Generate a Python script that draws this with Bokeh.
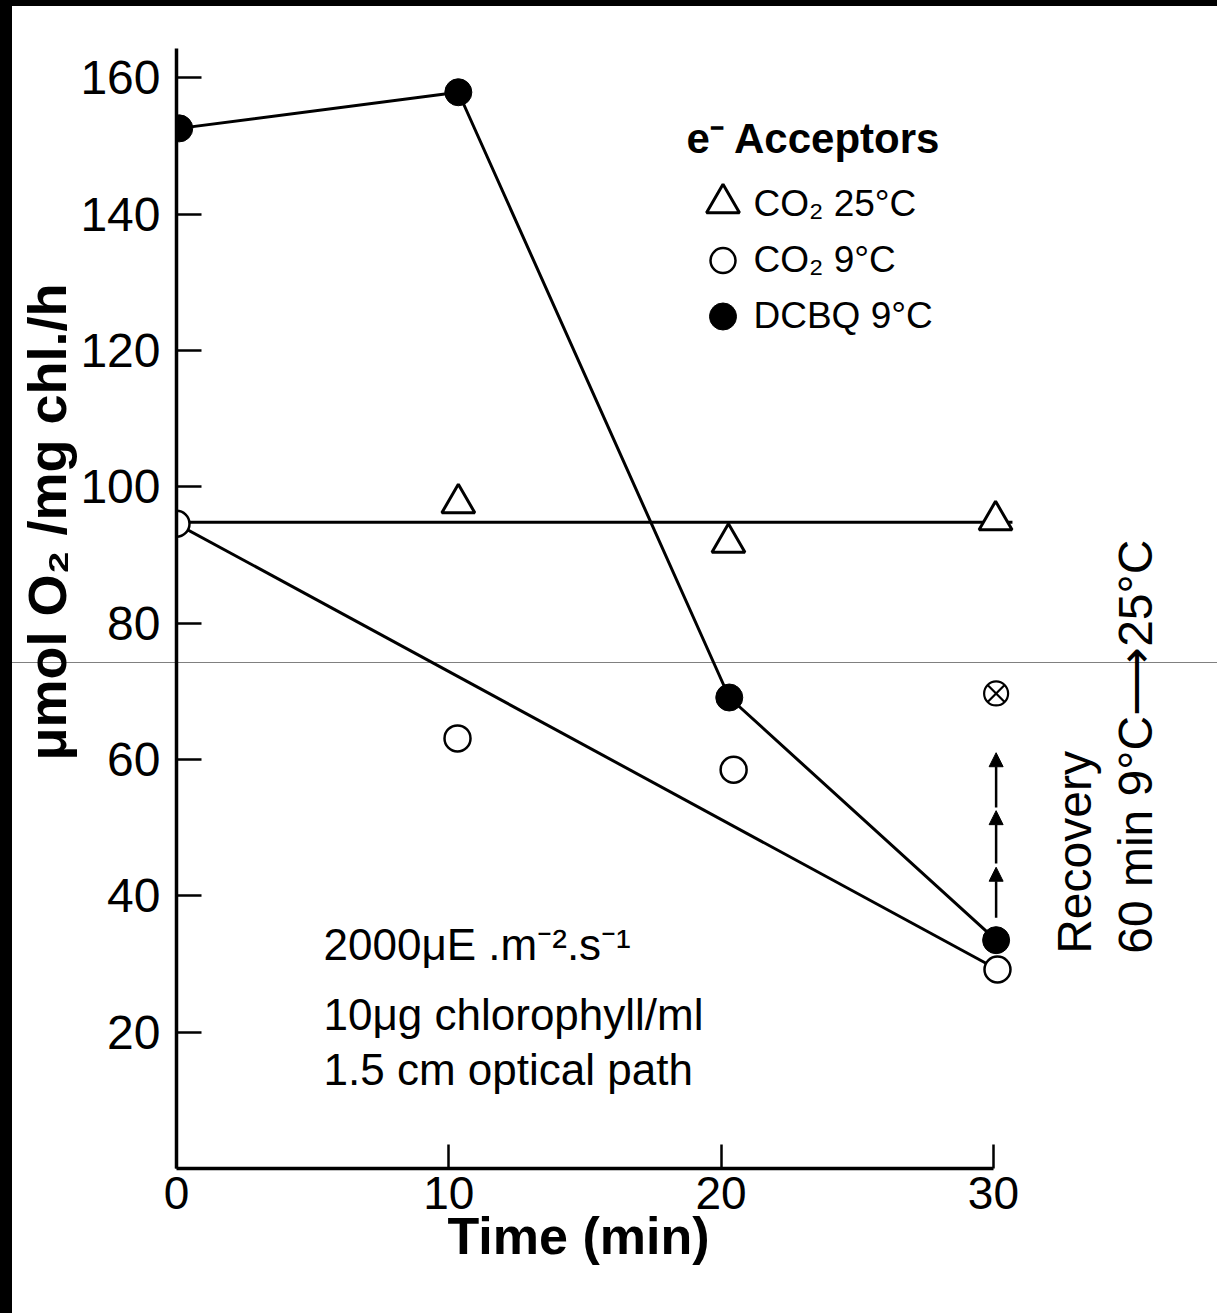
from bokeh.plotting import figure
from bokeh.models import FixedTicker, Arrow, NormalHead, Range1d, Title
from bokeh.layouts import column
from bokeh.embed import file_html
from bokeh.resources import INLINE
from bokeh.core.properties import value

FONT = "Liberation Sans"

# ---- data ----
time_dcbq = [0.1, 10.35, 20.3, 30.1]
rate_dcbq = [152.6, 157.9, 69.1, 33.5]

time_co2_25 = [10.35, 20.27, 30.08]
rate_co2_25 = [97.6, 91.8, 95.1]

time_co2_9 = [0.0, 10.32, 20.46, 30.15]
rate_co2_9 = [94.6, 63.1, 58.5, 29.2]

fit_co2_25_time = [0.0, 30.7]
fit_co2_25_rate = [94.8, 94.8]
fit_co2_9_time = [0.0, 30.15]
fit_co2_9_rate = [94.6, 29.2]

recovery_time = [30.1]
recovery_rate = [69.7]

x_ticks = [0, 10, 20, 30]
y_ticks = [20, 40, 60, 80, 100, 120, 140, 160]

x_title = "Time (min)"
y_title = "\u03bcmol O\u2082 /mg chl./h"
legend_title = "e\u207b Acceptors"
legend_labels = ["CO\u2082 25\u00b0C", "CO\u2082 9\u00b0C", "DCBQ 9\u00b0C"]
note_lines = ["2000\u03bcE .m\u207b\u00b2.s\u207b\u00b9", "10\u03bcg chlorophyll/ml", "1.5 cm optical path"]
recovery_lines = ["Recovery", "60 min 9\u00b0C\u27f625\u00b0C"]

# ---- figure ----
p = figure(width=1205, height=1307, output_backend="svg", toolbar_location=None,
           x_range=Range1d(0, 38.23), y_range=Range1d(0, 170.48),
           min_border_left=164, min_border_right=0, min_border_top=0, min_border_bottom=145)
p.outline_line_color = None
p.grid.visible = False
p.background_fill_color = None
p.border_fill_color = None

for ax in (p.xaxis[0], p.yaxis[0]):
    ax.axis_line_width = 3.5
    ax.axis_line_color = "black"
    ax.major_tick_out = 0
    ax.major_tick_line_width = 2.5
    ax.major_tick_line_color = "black"
    ax.minor_tick_line_color = None
    ax.major_label_text_font = FONT
    ax.major_label_text_color = "black"

p.xaxis.ticker = FixedTicker(ticks=x_ticks)
p.xaxis.bounds = (0, 30)
p.xaxis.major_tick_in = 24
p.xaxis.major_label_standoff = 8
p.xaxis.major_label_text_font_size = "46px"

p.yaxis.ticker = FixedTicker(ticks=y_ticks)
p.yaxis.bounds = (0, 164.3)
p.yaxis.major_tick_in = 25
p.yaxis.major_label_standoff = 16
p.yaxis.major_label_text_font_size = "48px"

# axis titles (as side titles, so they can sit off-centre like the original)
p.add_layout(Title(text=x_title, align="left", offset=271, vertical_align="middle", standoff=-12,
                   text_font=FONT, text_font_style="bold", text_font_size="52px",
                   text_color="black"), "below")
p.add_layout(Title(text=y_title, align="left", offset=408, vertical_align="middle", standoff=0,
                   text_font=FONT, text_font_style="bold", text_font_size="54px",
                   text_color="black"), "left")

# ---- lines ----
p.line(fit_co2_25_time, fit_co2_25_rate, line_color="black", line_width=3)
p.line(fit_co2_9_time, fit_co2_9_rate, line_color="black", line_width=3)
p.line(time_dcbq, rate_dcbq, line_color="black", line_width=3)

# ---- markers ----
p.scatter(time_co2_25, rate_co2_25, marker="triangle", size=33, fill_color="white",
          line_color="black", line_width=3)
p.scatter(time_co2_9, rate_co2_9, marker="circle", size=26, fill_color="white",
          line_color="black", line_width=2.5)
p.scatter(time_dcbq, rate_dcbq, marker="circle", size=27, fill_color="black",
          line_color="black", line_width=1)
p.scatter(recovery_time, recovery_rate, marker="circle_x", size=24, fill_color="white",
          line_color="black", line_width=2.2)

# ---- recovery arrows ----
arrow_x = recovery_time[0]
for y0, y1 in [(36.8, 44.2), (44.75, 52.5), (52.95, 61.0)]:
    p.add_layout(Arrow(x_start=arrow_x, y_start=y0, x_end=arrow_x, y_end=y1,
                       line_width=2.5, line_color="black",
                       end=NormalHead(size=14, fill_color="black", line_color="black", line_width=1)))

# ---- legend (manual) ----
p.text(x=[18.73], y=[151.1], text=[legend_title], text_font=value(FONT),
       text_font_style="bold", text_font_size="42px", text_color="black",
       text_baseline="alphabetic", text_align="left")
leg_x = 20.07
leg_marker_y = [141.6, 133.2, 125.0]
p.scatter([leg_x], [leg_marker_y[0]], marker="triangle", size=33, fill_color="white",
          line_color="black", line_width=3)
p.scatter([leg_x], [leg_marker_y[1]], marker="circle", size=25, fill_color="white",
          line_color="black", line_width=2.5)
p.scatter([leg_x], [leg_marker_y[2]], marker="circle", size=27, fill_color="black",
          line_color="black", line_width=1)
p.text(x=[21.19] * 3, y=[141.6, 133.4, 125.2], text=legend_labels, text_font=value(FONT),
       text_font_size="37px", text_color="black", text_baseline="alphabetic", text_align="left")

# ---- notes ----
p.text(x=[5.40] * 3, y=[32.8, 22.6, 14.5], text=note_lines, text_font=value(FONT),
       text_font_size="44px", text_color="black", text_baseline="alphabetic", text_align="left")

# ---- recovery text (rotated) ----
p.text(x=[32.98, 35.22], y=[31.5, 31.5], text=recovery_lines, angle=1.5707963,
       text_font=value(FONT), text_font_size="48px", text_color="black",
       text_baseline="alphabetic", text_align="left")

# page backdrop: black top and left edges and the thin grey scan line of the original
page_bg = ("linear-gradient(#000, #000) 0 0 / 100% 6px no-repeat, "
           "linear-gradient(#000, #000) 0 0 / 12px 100% no-repeat, "
           "linear-gradient(#808080, #808080) 0 662px / 100% 1px no-repeat, #fff")
layout = column(p, styles={"background": page_bg, "padding": "6px 0px 0px 12px"})

open("out.html", "w").write(file_html(layout, INLINE))
